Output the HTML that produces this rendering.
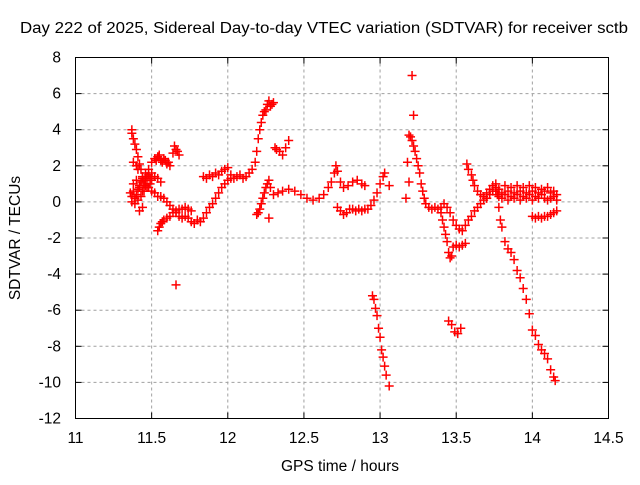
<!DOCTYPE html>
<html><head><meta charset="utf-8"><style>
body{margin:0;background:#fff}
svg text{font-family:"Liberation Sans",sans-serif;font-size:15.5px;fill:#000}
</style></head><body>
<svg id="chart" width="640" height="480" viewBox="0 0 640 480" xmlns="http://www.w3.org/2000/svg">
<rect width="640" height="480" fill="#fff"/>
<g id="grid"></g>
<g id="marks"></g>
<rect x="75.5" y="57.5" width="533" height="361" fill="none" stroke="#000"/>
<g id="ticks"></g>
<text x="20" y="33" textLength="608" lengthAdjust="spacingAndGlyphs">Day 222 of 2025, Sidereal Day-to-day VTEC variation (SDTVAR) for receiver sctb</text>
<text x="340" y="471" text-anchor="middle">GPS time / hours</text>
<text transform="translate(20,238) rotate(-90)" text-anchor="middle">SDTVAR / TECUs</text>
</svg>
<script>
const xTicks=[11,11.5,12,12.5,13,13.5,14,14.5];
const xTickLabels=["11","11.5","12","12.5","13","13.5","14","14.5"];
const yTicks=[-12,-10,-8,-6,-4,-2,0,2,4,6,8];
const yTickLabels=["-12","-10","-8","-6","-4","-2","0","2","4","6","8"];
const trackAx=[11.37,11.37,11.38,11.39,11.40,11.41,11.42,11.43,11.44,11.45,11.38,11.40,11.41];
const trackAy=[4.0,3.8,3.5,3.2,2.9,2.5,2.1,1.8,1.4,1.1,2.2,2.0,1.8];
const clusterBx=[11.36,11.37,11.38,11.39,11.40,11.41,11.42,11.43,11.44,11.45,11.46,11.47,11.48,11.49,11.50,11.37,11.39,11.41,11.43,11.45,11.47,11.49,11.38,11.40,11.42,11.44,11.46,11.48,11.50,11.52,11.54,11.56,11.42,11.44];
const clusterBy=[0.5,0.3,0.6,0.2,0.4,0.7,0.9,1.1,1.3,1.0,1.2,1.4,1.5,1.3,1.2,0.0,-0.1,0.1,0.3,0.6,0.8,1.0,1.0,1.2,0.8,0.6,1.6,1.8,1.6,1.4,1.3,1.1,-0.5,-0.3];
const trackCx=[11.50,11.52,11.53,11.54,11.55,11.56,11.57,11.58,11.59,11.60,11.61,11.62,11.64,11.65,11.66,11.67,11.68];
const trackCy=[2.2,2.4,2.3,2.5,2.6,2.3,2.2,2.4,2.3,2.1,2.2,2.0,2.7,3.1,2.9,2.8,2.6];
const trackDx=[11.46,11.48,11.50,11.52,11.54,11.56,11.58,11.60,11.62,11.64,11.66,11.68,11.70,11.72,11.74,11.76,11.78,11.80,11.82,11.84,11.86,11.88,11.90,11.92,11.94,11.96,11.98,12.00,12.02];
const trackDy=[0.9,0.8,0.6,0.5,0.3,0.3,0.2,0.0,-0.2,-0.4,-0.6,-0.8,-0.9,-0.8,-0.9,-1.1,-1.2,-1.0,-1.1,-0.9,-0.6,-0.3,-0.1,0.2,0.5,0.8,1.0,1.2,1.3];
const trackEx=[11.54,11.55,11.56,11.57,11.58,11.60,11.62,11.64,11.66,11.68,11.70,11.72,11.74,11.76,11.66];
const trackEy=[-1.6,-1.4,-1.2,-1.1,-1.0,-0.9,-0.8,-0.6,-0.5,-0.4,-0.4,-0.3,-0.4,-0.5,-4.6];
const trackFx=[11.84,11.86,11.88,11.90,11.92,11.94,11.96,11.98,12.00,12.02,12.04,12.06,12.08,12.10,12.12,12.14,12.16,12.18,12.19,12.20,12.21,12.22,12.23,12.24,12.25];
const trackFy=[1.4,1.3,1.5,1.4,1.6,1.5,1.7,1.8,1.9,1.5,1.3,1.4,1.5,1.3,1.4,1.6,1.8,2.2,2.8,3.5,4.0,4.4,4.8,5.0,5.1];
const trackGx=[12.26,12.27,12.28,12.29,12.30,12.31,12.32,12.34,12.36,12.38,12.40];
const trackGy=[5.4,5.6,5.3,5.4,5.5,3.0,2.9,2.8,2.6,3.0,3.4];
const trackHx=[12.19,12.20,12.21,12.22,12.23,12.24,12.25,12.26,12.27,12.28,12.30,12.33,12.36,12.40,12.44,12.48,12.52,12.56,12.60,12.63,12.66,12.68,12.70,12.71,12.72,12.74,12.76,12.79,12.82,12.85,12.88,12.90,12.27];
const trackHy=[-0.7,-0.6,-0.4,-0.1,0.2,0.5,0.8,1.0,1.2,0.8,0.4,0.5,0.6,0.7,0.6,0.4,0.2,0.1,0.2,0.4,0.8,1.1,1.6,2.0,1.7,1.1,0.8,0.9,1.1,1.2,1.0,0.9,-0.9];
const trackIx=[12.72,12.74,12.76,12.78,12.80,12.82,12.84,12.86,12.88,12.90,12.92,12.94,12.96,12.98,13.00,13.02,13.03,13.06];
const trackIy=[-0.3,-0.5,-0.7,-0.6,-0.4,-0.4,-0.5,-0.4,-0.5,-0.4,-0.4,-0.2,0.1,0.5,1.0,1.4,1.6,0.9];
const trackJx=[12.95,12.96,12.97,12.98,12.99,13.00,13.01,13.02,13.03,13.04,13.06];
const trackJy=[-5.2,-5.4,-5.9,-6.3,-7.0,-7.5,-8.2,-8.6,-9.1,-9.6,-10.2];
const trackKx=[13.21,13.22,13.19,13.20,13.21,13.22,13.23,13.24,13.25,13.26,13.27,13.28,13.29,13.30,13.32,13.34,13.36,13.38,13.40,13.42,13.44,13.46,13.48,13.50,13.52,13.54,13.56,13.58,13.60,13.62,13.64,13.66,13.68,13.70,13.19,13.18,13.17];
const trackKy=[7.0,4.8,3.7,3.6,3.4,3.1,2.8,2.4,2.0,1.6,1.0,0.6,0.2,-0.1,-0.3,-0.4,-0.3,-0.4,-0.3,-0.1,-0.3,-0.6,-1.0,-1.3,-1.5,-1.6,-1.3,-1.0,-0.8,-0.5,-0.3,-0.1,0.1,0.2,1.1,2.2,0.2];
const trackLx=[13.40,13.41,13.42,13.43,13.44,13.45,13.46,13.47,13.48,13.50,13.52,13.54,13.56,13.45,13.47,13.49,13.51,13.53];
const trackLy=[-0.6,-1.0,-1.4,-1.8,-2.2,-2.8,-3.1,-3.0,-2.5,-2.4,-2.5,-2.4,-2.3,-6.6,-6.8,-7.2,-7.3,-7.0];
const trackMx=[13.57,13.58,13.60,13.61,13.62,13.64,13.66,13.68,13.70,13.72,13.74,13.76,13.78,13.80,13.82,13.84,13.86,13.88,13.90,13.92,13.94,13.96,13.98,14.00,14.02,14.04,14.06,14.08,14.10,14.12,14.14,14.16];
const trackMy=[2.1,1.8,1.5,1.2,0.9,0.6,0.4,0.3,0.2,0.4,0.6,0.8,0.7,0.5,0.9,0.6,0.8,0.5,0.9,0.6,0.8,0.5,0.9,0.6,0.8,0.5,0.7,0.6,0.8,0.5,0.6,0.4];
const trackNx=[13.70,13.72,13.74,13.76,13.78,13.80,13.82,13.84,13.86,13.88,13.90,13.92,13.94,13.96,13.98,14.00,14.02,14.04,14.06,14.08,14.10,14.12,14.14,14.16];
const trackNy=[0.5,0.7,0.9,0.6,0.3,0.2,0.4,0.1,0.3,0.2,0.4,0.1,0.3,0.2,0.4,0.1,0.3,0.2,0.4,0.2,0.1,0.2,0.3,0.1];
const trackOx=[13.76,13.77,13.78,13.79,13.80,13.82,13.84,13.86,13.88,13.90,13.92,13.94,13.96,13.98,14.00,14.02,14.04,14.06,14.08,14.10,14.12,14.14,14.15];
const trackOy=[1.0,0.4,-0.3,-1.0,-1.4,-2.2,-2.6,-2.8,-3.2,-3.8,-4.2,-4.8,-5.4,-6.2,-7.1,-7.4,-7.9,-8.2,-8.4,-8.7,-9.3,-9.7,-9.9];
const trackPx=[14.00,14.02,14.04,14.06,14.08,14.10,14.12,14.14,14.16];
const trackPy=[-0.8,-0.9,-0.8,-0.9,-0.8,-0.8,-0.7,-0.6,-0.5];
const series=[[trackAx,trackAy],[clusterBx,clusterBy],[trackCx,trackCy],[trackDx,trackDy],[trackEx,trackEy],[trackFx,trackFy],[trackGx,trackGy],[trackHx,trackHy],[trackIx,trackIy],[trackJx,trackJy],[trackKx,trackKy],[trackLx,trackLy],[trackMx,trackMy],[trackNx,trackNy],[trackOx,trackOy],[trackPx,trackPy]];

const L=75.5,R=608.5,T=57.5,B=418.5;
const xs=v=>L+(v-11)/(14.5-11)*(R-L);
const ys=v=>B-(v+12)/20*(B-T);
const NS="http://www.w3.org/2000/svg";
const grid=document.getElementById('grid'),ticks=document.getElementById('ticks'),marks=document.getElementById('marks');
function mk(tag,attrs,parent){const e=document.createElementNS(NS,tag);for(const k in attrs)e.setAttribute(k,attrs[k]);parent.appendChild(e);return e;}
xTicks.forEach((v,i)=>{const x=xs(v);
 if(i>0&&i<xTicks.length-1){const g=mk('line',{x1:x,y1:T,x2:x,y2:B,stroke:'#a0a0a0','stroke-dasharray':'3,3'},grid);
 
 }
 mk('line',{x1:x,y1:B,x2:x,y2:B-6,stroke:'#000'},ticks);mk('line',{x1:x,y1:T,x2:x,y2:T+6,stroke:'#000'},ticks);
 const t=mk('text',{x:x,y:443,'text-anchor':'middle'},ticks);t.textContent=xTickLabels[i];
 
 });
yTicks.forEach((v,i)=>{const y=ys(v);
 if(i>0&&i<yTicks.length-1){const g=mk('line',{x1:L,y1:y,x2:R,y2:y,stroke:'#a0a0a0','stroke-dasharray':'3,3'},grid);
 
 }
 mk('line',{x1:L,y1:y,x2:L+6,y2:y,stroke:'#000'},ticks);mk('line',{x1:R,y1:y,x2:R-6,y2:y,stroke:'#000'},ticks);
 const t=mk('text',{x:61,y:y+5,'text-anchor':'end'},ticks);t.textContent=yTickLabels[i];
 
 });
series.forEach(([X,Y])=>{X.forEach((xv,j)=>{const x=xs(xv),y=ys(Y[j]);
 const p=mk('path',{d:`M${x-4.5},${y}H${x+4.5}M${x},${y-4.5}V${y+4.5}`,stroke:'#ff0000','stroke-width':1.5,fill:'none'},marks);
 
 });});
</script>
</body></html>
